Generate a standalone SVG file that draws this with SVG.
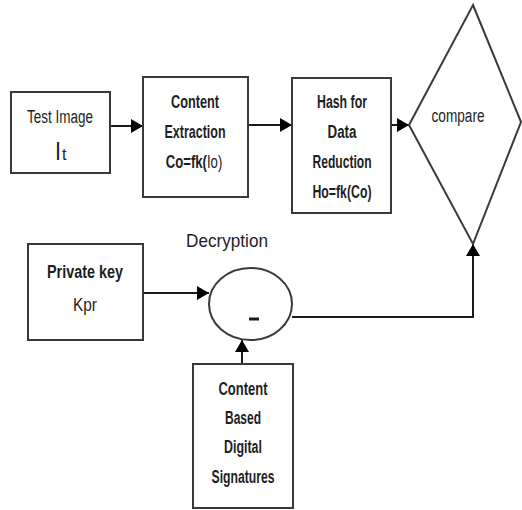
<svg xmlns="http://www.w3.org/2000/svg" width="522" height="510" viewBox="0 0 522 510">
  <style>
    .box { fill: #ffffff; stroke: #3a3a3a; stroke-width: 2; }
    .wire { fill: none; stroke: #1a1a1a; stroke-width: 2; }
    text { font-family: "Liberation Sans", Arial, sans-serif; fill: #1e1e1e; text-anchor: middle; }
    .b { font-size: 18px; font-weight: bold; }
    .r { font-size: 18px; font-weight: normal; }
    .s { text-anchor: start; }
  </style>
  <defs>
    <marker id="arrow" viewBox="0 0 12 14" refX="12" refY="7" markerWidth="12" markerHeight="14" markerUnits="userSpaceOnUse" orient="auto">
      <path d="M0,0 L12,7 L0,14 Z" fill="#000000"/>
    </marker>
  </defs>

  <rect width="522" height="510" fill="#ffffff"/>

  <!-- connectors -->
  <g id="connectors">
    <line class="wire" x1="110" y1="126" x2="143" y2="126" marker-end="url(#arrow)"/>
    <line class="wire" x1="248" y1="125" x2="292" y2="125" marker-end="url(#arrow)"/>
    <line class="wire" x1="391" y1="125" x2="409" y2="125" marker-end="url(#arrow)"/>
    <line class="wire" x1="143" y1="293" x2="209" y2="293" marker-end="url(#arrow)"/>
    <line class="wire" x1="242" y1="364" x2="242" y2="340" marker-end="url(#arrow)"/>
    <polyline class="wire" points="292,317 473,317 473,244" marker-end="url(#arrow)"/>
  </g>

  <!-- input image -->
  <g id="test-image">
    <rect class="box" x="11" y="92" width="99" height="81"/>
    <text class="r" x="60" y="123" textLength="66" lengthAdjust="spacingAndGlyphs">Test Image</text>
    <text class="s" x="55" y="160" font-size="26" textLength="6" lengthAdjust="spacingAndGlyphs">I</text>
    <text class="s" x="62" y="160" font-size="16">t</text>
  </g>

  <!-- content extraction -->
  <g id="content-extraction">
    <rect class="box" x="143" y="77" width="105" height="120"/>
    <text class="b" x="195" y="108" textLength="48" lengthAdjust="spacingAndGlyphs">Content</text>
    <text class="b" x="195" y="138" textLength="61" lengthAdjust="spacingAndGlyphs">Extraction</text>
    <!-- mixed-weight formula, condensed horizontally as one run -->
    <text transform="translate(194,168) scale(0.73,1)" x="0" y="0"><tspan class="b">Co=fk(</tspan><tspan class="r">Io)</tspan></text>
  </g>

  <!-- hash -->
  <g id="hash">
    <rect class="box" x="292" y="78" width="99" height="135"/>
    <text class="b" x="342" y="108" textLength="50" lengthAdjust="spacingAndGlyphs">Hash for</text>
    <text class="b" x="342" y="138" textLength="29" lengthAdjust="spacingAndGlyphs">Data</text>
    <text class="b" x="342" y="168" textLength="59" lengthAdjust="spacingAndGlyphs">Reduction</text>
    <text class="b" x="342" y="198" textLength="59" lengthAdjust="spacingAndGlyphs">Ho=fk(Co)</text>
  </g>

  <!-- comparison -->
  <g id="compare">
    <polygon class="box" points="473,5 521,122 473,244 409,125"/>
    <text class="r" x="458" y="122" textLength="53" lengthAdjust="spacingAndGlyphs">compare</text>
  </g>

  <!-- private key -->
  <g id="private-key">
    <rect class="box" x="28" y="244" width="115" height="96"/>
    <text class="b" x="85" y="278" textLength="76" lengthAdjust="spacingAndGlyphs">Private key</text>
    <text class="r" x="85" y="311" textLength="24" lengthAdjust="spacingAndGlyphs">Kpr</text>
  </g>

  <!-- decryption -->
  <g id="decryption">
    <text x="227" y="247" font-size="19" textLength="82" lengthAdjust="spacingAndGlyphs">Decryption</text>
    <ellipse class="box" cx="250.5" cy="304" rx="41.5" ry="36"/>
    <line x1="249" y1="319" x2="259" y2="319" stroke="#1a1a1a" stroke-width="3"/>
  </g>

  <!-- signatures -->
  <g id="signatures">
    <rect class="box" x="193" y="364" width="100" height="144"/>
    <text class="b" x="243" y="395" textLength="49" lengthAdjust="spacingAndGlyphs">Content</text>
    <text class="b" x="243" y="424" textLength="36" lengthAdjust="spacingAndGlyphs">Based</text>
    <text class="b" x="243" y="453" textLength="38" lengthAdjust="spacingAndGlyphs">Digital</text>
    <text class="b" x="243" y="483" textLength="63" lengthAdjust="spacingAndGlyphs">Signatures</text>
  </g>
</svg>
